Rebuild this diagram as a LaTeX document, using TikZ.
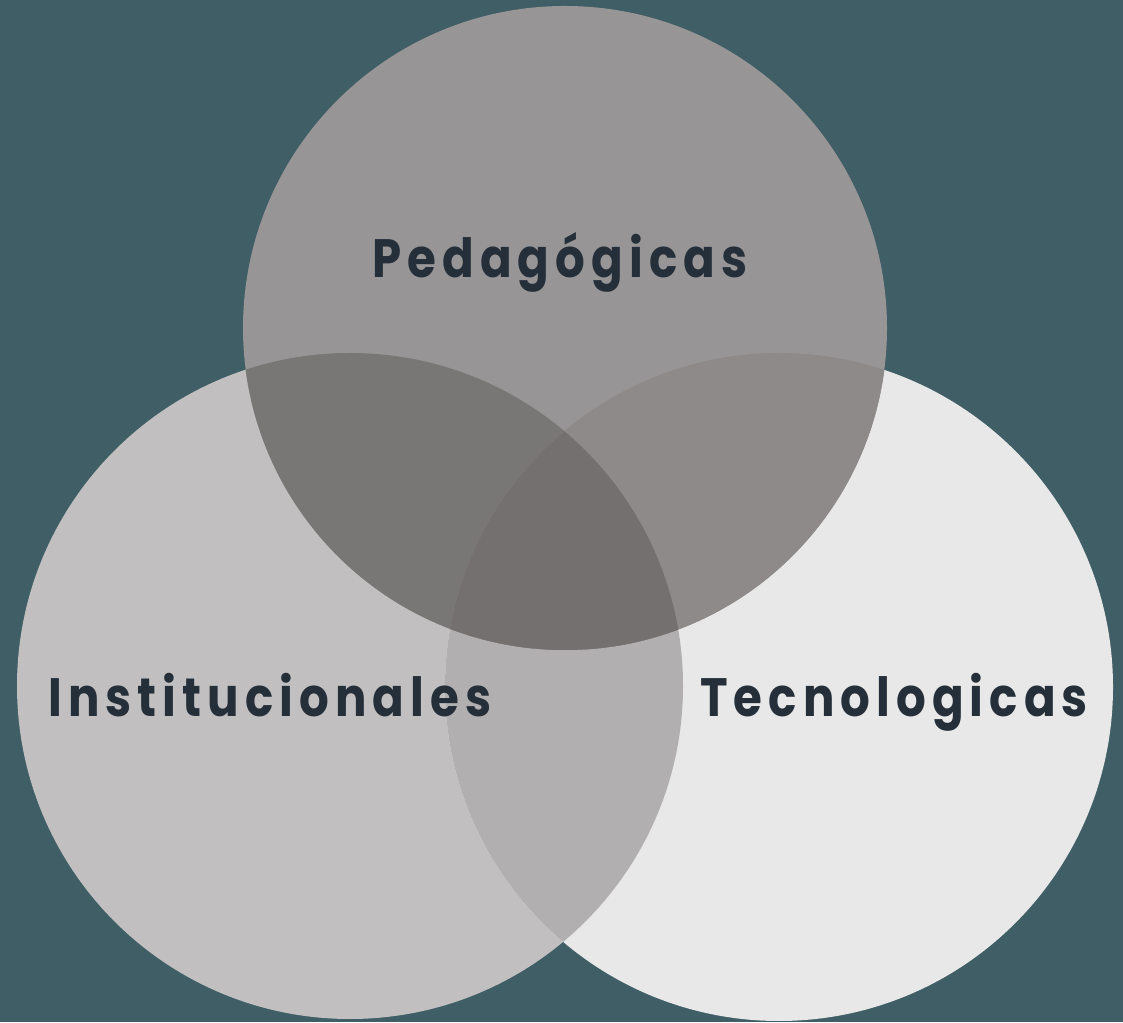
\documentclass[tikz,border=0pt]{standalone}
\usepackage{fontspec}
\newfontfamily\lblfont[LetterSpace=13]{Poppins}
\usetikzlibrary{positioning}

\definecolor{bgteal}{HTML}{405E66}
\definecolor{pedfill}{HTML}{979595}
\definecolor{instfill}{HTML}{C1BFC0}
\definecolor{tecfill}{HTML}{E8E8E8}
\definecolor{pedinst}{HTML}{797676}
\definecolor{pedtec}{HTML}{8E8A8A}
\definecolor{insttec}{HTML}{B1AFB0}
\definecolor{allthree}{HTML}{747070}
\definecolor{lbltext}{HTML}{252F3A}

\newcommand{\squeezed}[1]{\scalebox{0.865}[1]{#1}}

\tikzstyle{area} = [draw=none]
\tikzstyle{label} = [draw=none, fill=none, inner sep=0pt, anchor=base west, text=lbltext, font=\lblfont\bfseries\fontsize{54}{54}\selectfont]

\begin{document}
\begin{tikzpicture}[x=1pt, y=1pt]
    \fill[bgteal] (0,0) rectangle (1123,1022);
    \useasboundingbox (0,0) rectangle (1123,1022);
    \coordinate (cped) at (565,694);
    \coordinate (cinst) at (350,336);
    \coordinate (ctec) at (779,335);
    % single circles
    \fill[area, instfill] (cinst) circle (333pt);
    \fill[area, tecfill] (ctec) circle (334pt);
    \begin{scope}
        \clip (cinst) circle (333pt);
        \fill[area, insttec] (ctec) circle (334pt);
    \end{scope}
    \fill[area, pedfill] (cped) circle (322pt);
    % overlaps with the top circle
    \begin{scope}
        \clip (cped) circle (322pt);
        \fill[area, pedinst] (cinst) circle (333pt);
        \fill[area, pedtec] (ctec) circle (334pt);
        \clip (cinst) circle (333pt);
        \fill[area, allthree] (ctec) circle (334pt);
    \end{scope}
    % labels
    \node[label] (ped) at (372,744) {\squeezed{Pedagógicas}};
    \node[label] (inst) at (48,305) {\squeezed{Institucionales}};
    \node[label] (tec) at (700,305) {\squeezed{Tecnologicas}};
\end{tikzpicture}
\end{document}
